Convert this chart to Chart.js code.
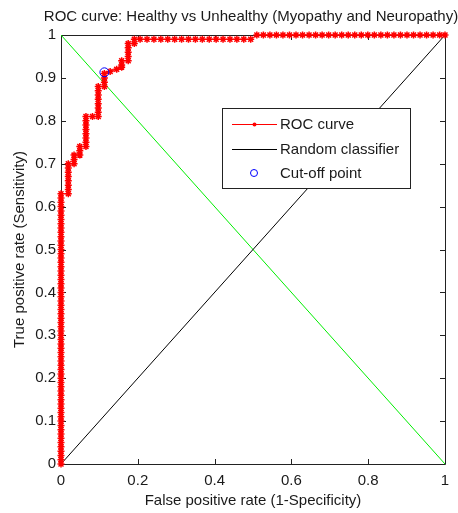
<!DOCTYPE html>
<html>
<head>
<meta charset="utf-8">
<script src="https://cdn.jsdelivr.net/npm/chart.js@4"></script>
<style>
html, body { margin: 0; padding: 0; background: #fff; }
#wrap { width: 458px; height: 513px; }
</style>
</head>
<body>
<div id="wrap"><canvas id="roc" width="458" height="513"></canvas></div>
<script>
// --- DATA ---
const titleText = 'ROC curve: Healthy vs Unhealthy (Myopathy and Neuropathy)';
const xLabel = 'False positive rate (1-Specificity)';
const yLabel = 'True positive rate (Sensitivity)';

const rocFpr = [
    0,0,0,0,0,0,0,0,0,0, 0,0,0,0,0,0,0,0,0,0,
    0,0,0,0,0,0,0,0,0,0, 0,0,0,0,0,0,0,0,0,0,
    0,0,0,0,0,0,0,0,0,0, 0,0,0,0,0,0,0,0,0,0,
    0,0,0,0,
    0.019,0.019,0.019,0.019,0.019,0.019,0.019,0.019,
    0.034,0.034,0.034,
    0.049,0.049,0.049,
    0.065,0.065,0.065,0.065,0.065,0.065,0.065,0.065,
    0.082,
    0.097,0.097,0.097,0.097,0.097,0.097,0.097,0.097,
    0.113,0.113,0.113,0.113,
    0.128, 0.145,
    0.158,0.158,0.158,
    0.175,0.175,0.175,0.175,0.175,
    0.191,0.191,
    0.206,0.224,0.242,0.260,0.278,0.296,0.314,0.332,0.350,0.368,0.386,0.404,0.422,0.440,0.458,0.476,0.494,
    0.510,0.527,0.544,0.561,0.578,0.595,0.612,0.629,0.646,0.663,0.680,0.697,0.714,0.731,0.748,
    0.765,0.782,0.799,0.816,0.833,0.850,0.867,0.884,0.901,0.918,0.935,0.952,0.969,0.986,1.0
];
const rocTpr = [
    0,0.01,0.02,0.03,0.04,0.05,0.06,0.07,0.08,0.09, 0.10,0.11,0.12,0.13,0.14,0.15,0.16,0.17,0.18,0.19,
    0.20,0.21,0.22,0.23,0.24,0.25,0.26,0.27,0.28,0.29, 0.30,0.31,0.32,0.33,0.34,0.35,0.36,0.37,0.38,0.39,
    0.40,0.41,0.42,0.43,0.44,0.45,0.46,0.47,0.48,0.49, 0.50,0.51,0.52,0.53,0.54,0.55,0.56,0.57,0.58,0.59,
    0.60,0.61,0.62,0.63,
    0.63,0.64,0.65,0.66,0.67,0.68,0.69,0.70,
    0.70,0.71,0.72,
    0.72,0.73,0.74,
    0.74,0.75,0.76,0.77,0.78,0.79,0.80,0.81,
    0.81,
    0.81,0.82,0.83,0.84,0.85,0.86,0.87,0.88,
    0.88,0.89,0.90,0.91,
    0.915, 0.92,
    0.925,0.93,0.94,
    0.94,0.95,0.96,0.97,0.98,
    0.98,0.99,
    0.99,0.99,0.99,0.99,0.99,0.99,0.99,0.99,0.99,0.99,0.99,0.99,0.99,0.99,0.99,0.99,0.99,
    1,1,1,1,1,1,1,1,1,1,1,1,1,1,1,
    1,1,1,1,1,1,1,1,1,1,1,1,1,1,1
];
const randomFpr = [0, 1];
const randomTpr = [0, 1];
const diagFpr = [0, 1];
const diagTpr = [1, 0];
const cutFpr = [0.113];
const cutTpr = [0.913];

const xTicks = [0, 0.2, 0.4, 0.6, 0.8, 1];
const yTicks = [0, 0.1, 0.2, 0.3, 0.4, 0.5, 0.6, 0.7, 0.8, 0.9, 1];
const legendLabels = ['ROC curve', 'Random classifier', 'Cut-off point'];

const FONT = '"Liberation Sans", Arial, sans-serif';
const TXT = '#1a1a1a';

const pts = (xs, ys) => xs.map((v, i) => ({x: v, y: ys[i]}));
const fmt = v => String(parseFloat(Number(v).toFixed(1)));

// --- frame, inward ticks, title and legend (MATLAB look) ---
const matlabLook = {
    id: 'matlabLook',
    beforeDatasetsDraw(chart) {
        const {ctx, chartArea: a, scales: {x, y}} = chart;
        ctx.save();
        ctx.strokeStyle = '#222';
        ctx.lineWidth = 1;
        ctx.beginPath();
        ctx.rect(a.left + 0.5, a.top + 0.5, a.right - a.left, a.bottom - a.top);
        xTicks.forEach(t => {
            const px = Math.round(x.getPixelForValue(t)) + 0.5;
            ctx.moveTo(px, a.bottom); ctx.lineTo(px, a.bottom - 5);
            ctx.moveTo(px, a.top); ctx.lineTo(px, a.top + 5);
        });
        yTicks.forEach(t => {
            const py = Math.round(y.getPixelForValue(t)) + 0.5;
            ctx.moveTo(a.left, py); ctx.lineTo(a.left + 5, py);
            ctx.moveTo(a.right, py); ctx.lineTo(a.right - 5, py);
        });
        ctx.stroke();
        ctx.restore();
    },
    afterDraw(chart) {
        const {ctx, chartArea: a} = chart;
        ctx.save();
        // title
        ctx.fillStyle = TXT;
        ctx.font = '15px ' + FONT;
        ctx.textAlign = 'center';
        ctx.textBaseline = 'alphabetic';
        ctx.fillText(titleText, 251, 21);

        // legend box
        const bx = 222.5, by = 108.5, bw = 188, bh = 80;
        ctx.fillStyle = '#fff';
        ctx.fillRect(bx, by, bw, bh);
        ctx.strokeStyle = '#222';
        ctx.lineWidth = 1;
        ctx.strokeRect(bx, by, bw, bh);

        const rows = [124, 149, 173];
        // ROC sample
        ctx.strokeStyle = '#ff0000';
        ctx.beginPath(); ctx.moveTo(232, rows[0] + 0.5); ctx.lineTo(277, rows[0] + 0.5); ctx.stroke();
        ctx.fillStyle = '#ff0000';
        ctx.beginPath(); ctx.arc(254.5, rows[0] + 0.5, 2, 0, Math.PI * 2); ctx.fill();
        // random sample
        ctx.strokeStyle = '#000';
        ctx.beginPath(); ctx.moveTo(232, rows[1] + 0.5); ctx.lineTo(277, rows[1] + 0.5); ctx.stroke();
        // cut-off sample
        ctx.strokeStyle = '#0000ff';
        ctx.beginPath(); ctx.arc(254, rows[2], 3.5, 0, Math.PI * 2); ctx.stroke();

        ctx.fillStyle = TXT;
        ctx.font = '15px ' + FONT;
        ctx.textAlign = 'left';
        ctx.textBaseline = 'middle';
        legendLabels.forEach((l, i) => ctx.fillText(l, 280, rows[i] + 1));
        ctx.restore();
    }
};

new Chart(document.getElementById('roc'), {
    type: 'scatter',
    data: {
        datasets: [
            {
                label: legendLabels[0],
                data: pts(rocFpr, rocTpr),
                showLine: true,
                borderColor: '#ff0000',
                backgroundColor: '#ff0000',
                borderWidth: 1,
                pointStyle: 'star',
                pointRadius: 3.5,
                pointBorderWidth: 1.5,
                pointHoverRadius: 3.5,
                clip: false,
                order: 1
            },
            {
                label: legendLabels[1],
                data: pts(randomFpr, randomTpr),
                showLine: true,
                borderColor: '#000',
                borderWidth: 1,
                pointRadius: 0,
                order: 2
            },
            {
                label: 'diag',
                data: pts(diagFpr, diagTpr),
                showLine: true,
                borderColor: '#00ee00',
                borderWidth: 1,
                pointRadius: 0,
                order: 3
            },
            {
                label: legendLabels[2],
                data: pts(cutFpr, cutTpr),
                showLine: false,
                borderColor: '#0000ff',
                backgroundColor: 'rgba(0,0,0,0)',
                pointStyle: 'circle',
                pointRadius: 4.5,
                pointBorderWidth: 1,
                clip: false,
                order: 0
            }
        ]
    },
    options: {
        responsive: false,
        animation: false,
        layout: { padding: { top: 35, right: 13, left: 0, bottom: 0 } },
        plugins: {
            legend: { display: false },
            title: { display: false },
            tooltip: { enabled: false }
        },
        scales: {
            x: {
                type: 'linear',
                min: 0, max: 1,
                afterFit: s => { s.height = 49; },
                afterBuildTicks: s => { s.ticks = xTicks.map(v => ({value: v})); },
                grid: { display: false, drawTicks: false },
                border: { display: false },
                ticks: { callback: fmt, color: TXT, padding: 8, maxRotation: 0, font: { family: FONT, size: 15 } },
                title: { display: true, text: xLabel, color: TXT, padding: { top: 0, bottom: 3 }, font: { family: FONT, size: 15 } }
            },
            y: {
                type: 'linear',
                min: 0, max: 1,
                afterFit: s => { s.width = 61; },
                afterBuildTicks: s => { s.ticks = yTicks.map(v => ({value: v})); },
                grid: { display: false, drawTicks: false },
                border: { display: false },
                ticks: { callback: fmt, color: TXT, padding: 5, font: { family: FONT, size: 15 } },
                title: { display: true, text: yLabel, color: TXT, padding: { top: 11, bottom: 0 }, font: { family: FONT, size: 15 } }
            }
        }
    },
    plugins: [matlabLook]
});
</script>
</body>
</html>
